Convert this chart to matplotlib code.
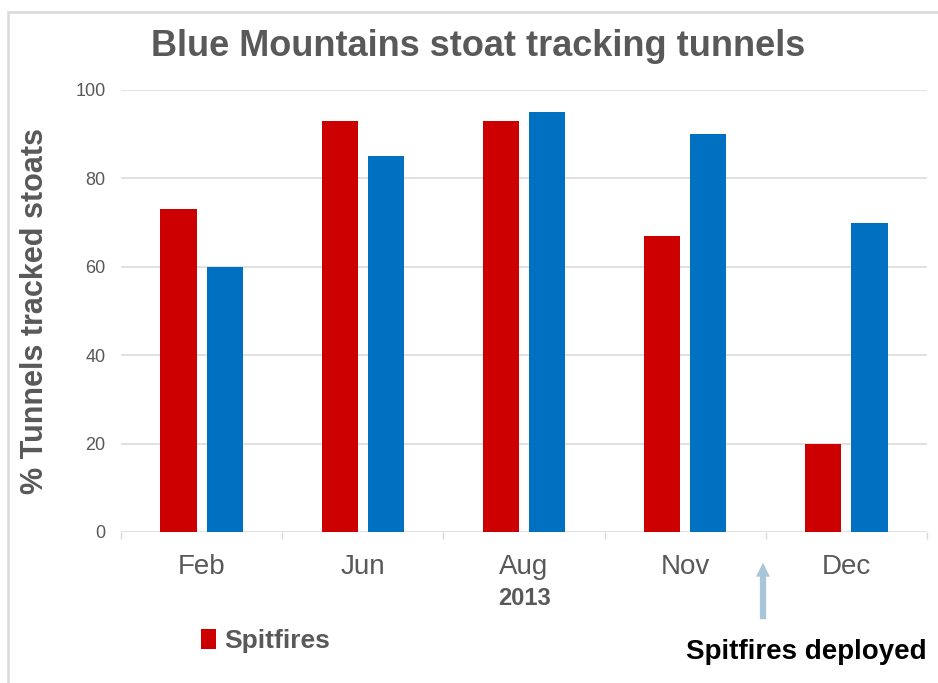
import numpy as np
import matplotlib.pyplot as plt
from matplotlib.patches import Rectangle

# ---------- data ----------
months = ["Feb", "Jun", "Aug", "Nov", "Dec"]
spitfires = [73, 93, 93, 67, 20]
control = [60, 85, 95, 90, 70]
yticks = [0, 20, 40, 60, 80, 100]

plt.rcParams['font.family'] = ['Liberation Sans', 'DejaVu Sans']
grey = '#595959'

fig = plt.figure(figsize=(9.38, 6.83), dpi=100)
ax = fig.add_axes([121 / 938, 1 - 532 / 683, (927 - 121) / 938, (532 - 90) / 683])

x = np.arange(len(months))
w = 0.224
red = ax.bar(x - 0.143, spitfires, w, color='#CC0000', label='Spitfires', zorder=3)
ax.bar(x + 0.143, control, w, color='#0070C0', zorder=3)

ax.set_xlim(-0.5, len(months) - 0.5)
ax.set_ylim(0, 100)
ax.set_yticks(yticks)
ax.yaxis.grid(True, color='#d9d9d9', lw=1.1, zorder=0)
for s in ax.spines.values():
    s.set_visible(False)

ax.set_xticks(x)
ax.set_xticklabels(months)
ax.set_xticks(np.arange(-0.5, len(months)), minor=True)
ax.tick_params(axis='x', which='major', length=0, pad=16, labelsize=20, labelcolor=grey)
ax.tick_params(axis='x', which='minor', length=5, width=1, color='#d9d9d9')
ax.tick_params(axis='y', length=0, pad=11, labelsize=13, labelcolor=grey)

ax.set_ylabel("% Tunnels tracked stoats", fontsize=22, fontweight='bold', color=grey, labelpad=18)
ax.set_xlabel("2013", fontsize=17, fontweight='bold', color=grey, labelpad=5)

fig.text(478 / 938, 1 - 46 / 683, "Blue Mountains stoat tracking tunnels",
         ha='center', va='center', fontsize=26, fontweight='bold', color=grey)

leg = fig.legend(handles=[red], loc='center left', bbox_to_anchor=(190 / 938, 1 - 641 / 683),
                 frameon=False, fontsize=19, handlelength=0.6, handleheight=0.8,
                 handletextpad=0.3, borderaxespad=0)
for t in leg.get_texts():
    t.set_color(grey)
    t.set_fontweight('bold')

# arrow marking deployment
ax.annotate("", xy=(763 / 938, 1 - 560 / 683), xytext=(763 / 938, 1 - 622 / 683),
            xycoords='figure fraction', textcoords='figure fraction',
            arrowprops=dict(arrowstyle='simple,head_length=1.0,head_width=1.0,tail_width=0.45',
                            color='#a9c6d9', lw=0))
fig.text(927 / 938, 1 - 652 / 683, "Spitfires deployed", ha='right', va='center',
         fontsize=20, fontweight='bold', color='black')

# chart border (cropped at right and bottom)
fig.patches.append(Rectangle((7.5 / 938, -0.1), 1.2, 1.1 - 12.5 / 683, transform=fig.transFigure,
                             fill=False, edgecolor='#d9d9d9', lw=1.8))

fig.savefig("out.png", dpi=100)
